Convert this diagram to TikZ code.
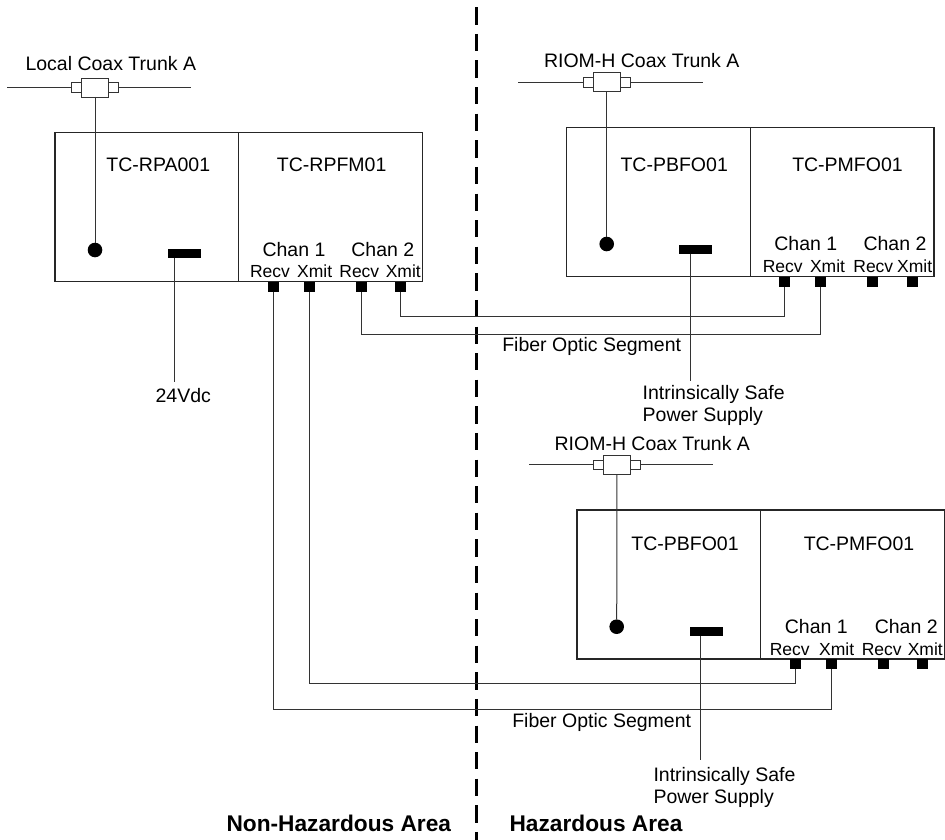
\documentclass[tikz,border=0pt]{standalone}
\usepackage{fontspec}
\setmainfont{Liberation Sans}
\usetikzlibrary{positioning}

\begin{document}
\begin{tikzpicture}[
  x=1pt, y=1pt,
  every node/.style={font=\fontsize{19.5}{21.6}\selectfont, inner sep=0pt, outer sep=0pt},
  unit/.style={draw=black!85, line width=1.2pt, minimum width=183.6pt, minimum height=149pt, anchor=north west},
  small/.style={font=\fontsize{17.5}{19}\selectfont},
  area/.style={font=\fontsize{22.7}{26}\selectfont\bfseries},
  port/.style={fill=black, minimum width=11pt, minimum height=10pt, anchor=north},
  dot/.style={circle, fill=black, minimum size=14.6pt},
  bar/.style={fill=black, minimum width=32.4pt, minimum height=9pt},
  tee/.style={draw=black!80, line width=0.9pt, fill=white, minimum width=26.6pt, minimum height=19pt},
  stub/.style={draw=black!80, line width=0.9pt, fill=white, minimum width=10pt, minimum height=9.4pt},
  wire/.style={draw=black!80, line width=1pt},
  zone/.style={line width=3.3pt, dash pattern=on 17.3pt off 9.3pt}
]
\useasboundingbox (0,0) rectangle (945,-840);

% area border
\coordinate (zTop) at (476.7,-7.3);
\coordinate (zBot) at (476.7,-840);
\draw[zone] (zTop) -- (zBot);
\node[area] (nonHaz) at (338.8,-823.3) {Non-Hazardous Area};
\node[area] (haz) at (596,-823.3) {Hazardous Area};

% local rack
\node[unit] (rpa) at (55,-132.7) {};
\node[unit, right=0pt of rpa] (rpfm) {};
\node (rpaT) at (158.3,-165) {TC-RPA001};
\node (rpfmT) at (331.7,-165) {TC-RPFM01};
\node[dot] (rpaDot) at (95,-250) {};
\node[bar] (rpaBar) at (184.5,-253.8) {};
\node (rpfmC1) at (294,-249.3) {Chan 1};
\node (rpfmC2) at (382.8,-249.3) {Chan 2};
\node[small] (rpfmR1t) at (270,-271.7) {Recv};
\node[small] (rpfmX1t) at (314.7,-271.7) {Xmit};
\node[small] (rpfmR2t) at (359.3,-271.7) {Recv};
\node[small] (rpfmX2t) at (403.3,-271.7) {Xmit};
\node[port] (rpfmR1) at (273,-282.3) {};
\node[port] (rpfmX1) at (309.5,-282.3) {};
\node[port] (rpfmR2) at (361,-282.3) {};
\node[port] (rpfmX2) at (400.5,-282.3) {};

\node (locT) at (110.8,-64) {Local Coax Trunk A};
\node[tee] (locTee) at (95,-87.5) {};
\node[stub, left=0pt of locTee] (locSL) {};
\node[stub, right=0pt of locTee] (locSR) {};
\coordinate (locW) at (7,-87.5);
\coordinate (locE) at (191,-87.5);
\draw[wire] (locW) -- (locSL);
\draw[wire] (locSR) -- (locE);
\draw[wire] (locTee) -- (rpaDot);

\coordinate (vdcEnd) at (174,-381.7);
\node (vdc) at (183.3,-396) {24Vdc};
\draw[wire] (vdcEnd |- rpaBar.south) -- (vdcEnd);

% first remote rack
\node[unit] (pbfoA) at (566.7,-127.3) {};
\node[unit, right=0pt of pbfoA] (pmfoA) {};
\node (pbfoAT) at (674.2,-165) {TC-PBFO01};
\node (pmfoAT) at (847.5,-165) {TC-PMFO01};
\node[dot] (pbfoADot) at (606.7,-244) {};
\node[bar] (pbfoABar) at (695.5,-249.2) {};
\node (pmfoAC1) at (805.8,-243.3) {Chan 1};
\node (pmfoAC2) at (895,-243.3) {Chan 2};
\node[small] (pmfoAR1t) at (782.7,-266.7) {Recv};
\node[small] (pmfoAX1t) at (827.5,-266.7) {Xmit};
\node[small] (pmfoAR2t) at (873.3,-266.7) {Recv};
\node[small] (pmfoAX2t) at (914.7,-266.7) {Xmit};
\node[port] (pmfoAR1) at (784.3,-276.7) {};
\node[port] (pmfoAX1) at (820.7,-276.7) {};
\node[port] (pmfoAR2) at (872.7,-276.7) {};
\node[port] (pmfoAX2) at (912.3,-276.7) {};

\node (riomAT) at (641.7,-60.7) {RIOM-H Coax Trunk A};
\node[tee] (riomATee) at (606.7,-82.3) {};
\node[stub, left=0pt of riomATee] (riomASL) {};
\node[stub, right=0pt of riomATee] (riomASR) {};
\coordinate (riomAW) at (518.3,-82.3);
\coordinate (riomAE) at (702.7,-82.3);
\draw[wire] (riomAW) -- (riomASL);
\draw[wire] (riomASR) -- (riomAE);
\draw[wire] (riomATee) -- (pbfoADot);

\coordinate (isAEnd) at (690.7,-380.7);
\node[anchor=north west, align=left] (isA) at (642.7,-385.5) {Intrinsically Safe\\Power Supply};
\draw[wire] (isAEnd |- pbfoABar.south) -- (isAEnd);

\node (fosA) at (591.7,-346.7) {Fiber Optic Segment};
\draw[wire] (rpfmX2.south) -- ++(0,-24.4) -| (pmfoAR1.south);
\draw[wire] (rpfmR2.south) -- ++(0,-41.7) -| (pmfoAX1.south);

% second remote rack
\node[unit] (pbfoB) at (577,-510) {};
\node[unit, right=0pt of pbfoB] (pmfoB) {};
\node (pbfoBT) at (685,-544) {TC-PBFO01};
\node (pmfoBT) at (859,-544) {TC-PMFO01};
\node[dot] (pbfoBDot) at (616.7,-626.7) {};
\node[bar] (pbfoBBar) at (706.4,-631.7) {};
\node (pmfoBC1) at (816.3,-626.7) {Chan 1};
\node (pmfoBC2) at (906.2,-626.7) {Chan 2};
\node[small] (pmfoBR1t) at (789.7,-649.3) {Recv};
\node[small] (pmfoBX1t) at (836.7,-649.3) {Xmit};
\node[small] (pmfoBR2t) at (881.7,-649.3) {Recv};
\node[small] (pmfoBX2t) at (925.3,-649.3) {Xmit};
\node[port] (pmfoBR1) at (795,-659.3) {};
\node[port] (pmfoBX1) at (831.7,-659.3) {};
\node[port] (pmfoBR2) at (883.3,-659.3) {};
\node[port] (pmfoBX2) at (922.7,-659.3) {};

\node (riomBT) at (652.3,-444) {RIOM-H Coax Trunk A};
\node[tee] (riomBTee) at (617,-464.7) {};
\node[stub, left=0pt of riomBTee] (riomBSL) {};
\node[stub, right=0pt of riomBTee] (riomBSR) {};
\coordinate (riomBW) at (529.3,-464.7);
\coordinate (riomBE) at (712.7,-464.7);
\draw[wire] (riomBW) -- (riomBSL);
\draw[wire] (riomBSR) -- (riomBE);
\draw[wire] (riomBTee) -- (pbfoBDot);

\coordinate (isBEnd) at (700.7,-760);
\node[anchor=north west, align=left] (isB) at (653.5,-767.7) {Intrinsically Safe\\Power Supply};
\draw[wire] (isBEnd |- pbfoBBar.south) -- (isBEnd);

\node (fosB) at (601.7,-722.7) {Fiber Optic Segment};
\draw[wire] (rpfmX1.south) -- ++(0,-391) -| (pmfoBR1.south);
\draw[wire] (rpfmR1.south) -- ++(0,-416.7) -| (pmfoBX1.south);
\end{tikzpicture}
\end{document}
